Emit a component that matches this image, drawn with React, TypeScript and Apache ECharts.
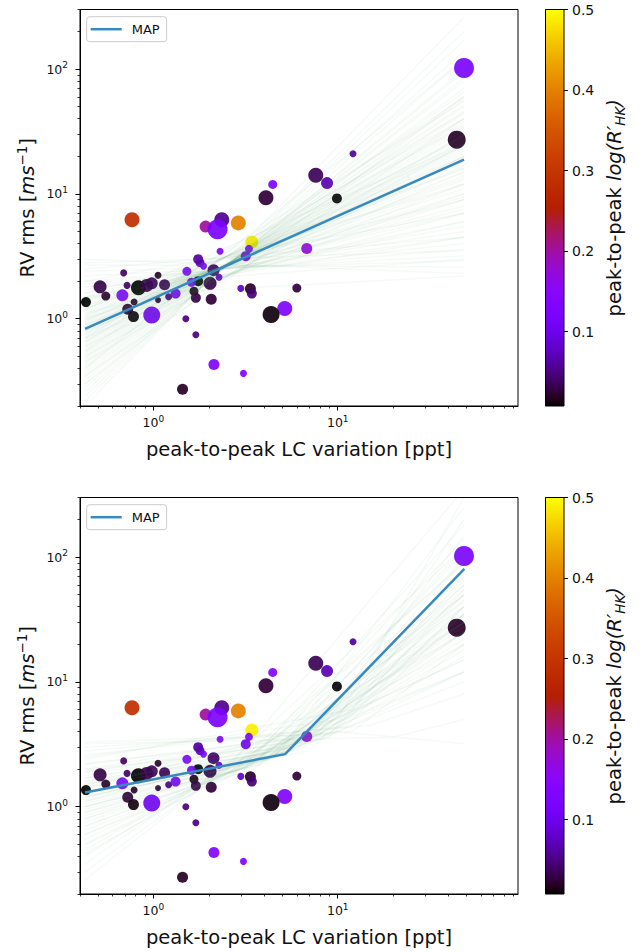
import React, { useEffect, useRef } from "react";
import * as echarts from "echarts";

const FONT = "DejaVu Sans";
const TEXT = "#111";

// axis ranges
const X_MIN = 0.4, X_MAX = 95;
const Y_MIN = 0.2, Y_MAX = 300;
const C_MIN = 0.0076, C_MAX = 0.5;

// stars: peak-to-peak LC variation [ppt]
const lcVariation = [48.4, 44.2, 12.1, 7.6, 8.75, 4.44, 4.08, 9.9, 0.766, 2.35, 1.92, 2.23, 2.89, 3.42, 3.3, 3.17, 2.3, 6.79, 1.75, 1.79, 1.87, 1.52, 2.12, 2.27, 2.03, 1.75, 1.61, 1.66, 1.7, 2.06, 2.98, 3.36, 3.42, 6.0, 5.16, 4.35, 1.5, 1.7, 2.13, 3.08, 1.44, 0.98, 0.431, 0.514, 0.552, 0.679, 0.69, 0.72, 0.726, 0.78, 0.786, 0.83, 0.92, 0.98, 1.06, 1.15, 1.06, 1.21, 1.32];
// RV rms [m/s]
const rvRms = [102, 27.2, 21.0, 14.1, 12.2, 11.9, 9.3, 9.2, 6.2, 6.2, 5.47, 5.2, 5.86, 4.1, 3.63, 3.17, 3.47, 3.65, 3.0, 2.82, 2.64, 2.4, 2.45, 2.15, 1.92, 2.0, 1.96, 1.66, 1.47, 1.43, 1.75, 1.74, 1.59, 1.76, 1.21, 1.08, 1.0, 0.745, 0.43, 0.365, 0.272, 1.07, 1.36, 1.8, 1.52, 1.54, 2.33, 1.85, 1.19, 1.04, 1.36, 1.77, 1.85, 1.92, 2.23, 1.87, 1.41, 1.5, 1.59];
// peak-to-peak log(R'HK)
const rhkVariation = [0.125, 0.02, 0.06, 0.035, 0.07, 0.13, 0.025, 0.01, 0.285, 0.055, 0.2, 0.125, 0.4, 0.49, 0.13, 0.11, 0.13, 0.17, 0.06, 0.07, 0.12, 0.13, 0.04, 0.08, 0.03, 0.008, 0.12, 0.015, 0.03, 0.025, 0.08, 0.02, 0.045, 0.025, 0.13, 0.012, 0.05, 0.05, 0.13, 0.13, 0.02, 0.11, 0.008, 0.03, 0.02, 0.13, 0.04, 0.04, 0.025, 0.012, 0.02, 0.008, 0.03, 0.035, 0.02, 0.035, 0.025, 0.05, 0.12];
// marker diameters
const markerSize = [20, 18, 7, 15, 12, 9, 15, 10, 15, 15, 12, 20, 15, 13, 8, 10, 7, 11, 10, 9, 7, 9, 12, 7, 13, 10, 9, 9, 10, 11, 7, 11, 10, 9, 15, 17, 7, 7, 11, 7, 11, 17, 10, 13, 9, 12, 7, 7, 11, 11, 7, 15, 13, 12, 7, 11, 6, 7, 10];

// MAP models
const mapLinearX = [0.426, 48.4];
const mapLinearY = [0.83, 18.8];
const mapBrokenX = [0.426, 5.18, 48.6];
const mapBrokenY = [1.3, 2.64, 80.6];

// posterior samples
const sampleX0 = 0.426, sampleX1 = 48.4;
const linStart = [0.2, 0.22, 0.24, 0.26, 0.28, 0.3, 0.32, 0.34, 0.36, 0.38, 0.4, 0.42, 0.44, 0.46, 0.48, 0.5, 0.52, 0.54, 0.56, 0.58, 0.6, 0.62, 0.64, 0.66, 0.68, 0.7, 0.72, 0.74, 0.76, 0.78, 0.8, 0.82, 0.84, 0.86, 0.88, 0.9, 0.92, 0.95, 0.98, 1.0, 1.03, 1.06, 1.1, 1.14, 1.18, 1.22, 1.27, 1.32, 1.38, 1.44, 1.5, 1.6, 1.7, 1.8, 1.9, 2.0, 2.2, 2.4, 2.7, 3.0, 0.5, 0.55, 0.6, 0.65, 0.7, 0.75, 0.8, 0.85, 0.9, 0.95, 1.0, 1.05, 1.1, 1.2, 1.3, 1.4, 1.5, 1.6, 1.8, 2.0, 0.35, 0.4, 0.45, 0.3, 0.7, 0.8, 1.2, 1.5, 2.5, 2.8];
const linEnd = [260, 200, 170, 140, 120, 100, 95, 85, 80, 70, 66, 60, 57, 52, 50, 46, 44, 40, 38, 36, 34, 32, 30, 29, 27, 26, 25, 24, 23, 22, 21, 20, 19.5, 19, 18, 17, 16.5, 16, 15, 14, 13.5, 13, 12, 11, 10, 9.5, 9, 8, 7.5, 7, 6, 5.5, 5, 4.5, 4, 3.6, 3.2, 2.9, 2.6, 2.3, 25, 60, 20, 45, 15, 35, 12, 28, 10, 24, 9, 20, 7, 16, 6, 12, 4.5, 9, 3, 7, 40, 120, 30, 60, 55, 40, 25, 2.2, 4.5, 3.5];
const brStart = [1.3, 1.0, 0.8, 0.6, 0.5, 0.3, 0.26, 1.5, 1.8, 2.0, 2.5, 3.3, 3.0, 1.6, 1.2, 1.1, 0.9, 0.7, 0.4, 1.4, 1.7, 2.2, 2.8, 3.2, 1.9, 0.55, 0.45, 1.0, 0.8, 1.3, 2.4, 0.35, 1.5, 1.2, 2.0, 1.1, 0.95, 1.25, 1.4, 0.75, 0.65, 1.6, 1.35, 1.05, 0.85, 1.15, 1.45, 1.7, 0.6, 0.9, 1.2, 2.2, 2.6, 1.9, 0.5, 0.7, 1.55, 1.0, 1.3, 0.42];
const brKneeX = [5.2, 4.0, 3.5, 3.0, 2.5, 2.0, 1.8, 6.0, 7.0, 8.0, 10, 9, 12, 5, 4.5, 6, 3, 2.6, 2.2, 8, 4, 6, 15, 20, 10, 1.8, 3, 2.5, 5, 3.5, 12, 2, 9, 7, 5.5, 4.2, 3.8, 5.5, 6.5, 3.2, 2.8, 7.5, 4.8, 5.0, 4.0, 6.0, 5.0, 9.0, 2.4, 4.5, 3.0, 8, 11, 7, 2.0, 3.5, 4.5, 6.5, 8.0, 2.6];
const brKneeY = [2.6, 2.2, 2.0, 1.9, 1.7, 1.6, 1.4, 3.0, 3.5, 4.0, 5, 3.8, 4, 2.8, 2.5, 3.2, 2, 1.9, 1.8, 4.5, 2.8, 3.5, 4.5, 3.6, 4, 1.5, 2.4, 2, 3, 2.5, 6, 1.7, 3.6, 2.8, 3, 2.4, 2.2, 2.8, 3.1, 2.1, 1.9, 3.4, 2.6, 2.6, 2.3, 2.9, 2.7, 3.8, 1.8, 2.5, 2.2, 3.8, 4.4, 3.4, 1.6, 2.2, 2.7, 3.0, 3.4, 1.9];
const brEnd = [80, 60, 50, 45, 70, 120, 40, 100, 150, 200, 300, 40, 20, 30, 35, 25, 25, 20, 30, 60, 15, 12, 8, 5, 3.2, 10, 90, 350, 250, 180, 100, 15, 40, 50, 30, 40, 55, 65, 45, 35, 30, 70, 22, 18, 28, 35, 50, 55, 25, 120, 90, 25, 35, 20, 12, 140, 110, 16, 12, 50];

// ticks
const xMajorTicks = [1, 10];
const xMinorTicks = [0.4, 0.5, 0.6, 0.7, 0.8, 0.9, 2, 3, 4, 5, 6, 7, 8, 9, 20, 30, 40, 50, 60, 70, 80, 90];
const yMajorTicks = [1, 10, 100];
const yMinorTicks = [0.2, 0.3, 0.4, 0.5, 0.6, 0.7, 0.8, 0.9, 2, 3, 4, 5, 6, 7, 8, 9, 20, 30, 40, 50, 60, 70, 80, 90, 200, 300];
const cbarTicks = [0.1, 0.2, 0.3, 0.4, 0.5];

// layout
const GRID_LEFT = 80, GRID_W = 438, GRID_H = 396.5;
const PANEL_TOPS = [9.5, 497.5];
const CB_LEFT = 545.5, CB_W = 18.5;

const MAP_COLOR = "#3789c2";
const SAMPLE_STROKE = "rgba(70,150,90,0.05)";

function gnuplot(t: number) {
  const r = Math.sqrt(t);
  const g = t * t * t;
  const b = Math.max(0, Math.sin(2 * Math.PI * t));
  return `rgb(${Math.round(255 * r)},${Math.round(255 * g)},${Math.round(255 * b)})`;
}
const PALETTE = Array.from({ length: 51 }, (_, i) => gnuplot(i / 50));

const lg = Math.log10;

const tickRich = {
  b: { fontFamily: FONT, fontSize: 12.5, lineHeight: 13, verticalAlign: "bottom", color: TEXT },
  s: { fontFamily: FONT, fontSize: 9, lineHeight: 9, verticalAlign: "bottom", padding: [0, 0, 6, 0], color: TEXT },
};
const powFmt = (v: number) => `{b|10}{s|${Math.round(v)}}`;

function axesFor(p: number) {
  const xs = [
    { type: "log", logBase: 10, gridIndex: p, min: X_MIN, max: X_MAX, position: "bottom", show: false },
    {
      type: "value", gridIndex: p, min: lg(X_MIN), max: lg(X_MAX), position: "bottom",
      axisLine: { show: true, onZero: false, lineStyle: { color: "#000", width: 1 } },
      axisTick: { show: true, customValues: xMajorTicks.map(lg), length: 4.5, lineStyle: { color: "#000", width: 1 } },
      axisLabel: { show: true, customValues: xMajorTicks.map(lg), margin: 10, formatter: powFmt, rich: tickRich },
      splitLine: { show: false },
      name: "peak-to-peak LC variation [ppt]", nameLocation: "middle", nameGap: 33, nameMoveOverlap: false,
      nameTextStyle: { fontFamily: FONT, fontSize: 19.5, color: TEXT },
    },
    {
      type: "value", gridIndex: p, min: lg(X_MIN), max: lg(X_MAX), position: "bottom",
      axisLine: { show: false, onZero: false },
      axisTick: { show: true, customValues: xMinorTicks.map(lg), length: 2.5, lineStyle: { color: "#000", width: 0.8 } },
      axisLabel: { show: false }, splitLine: { show: false },
    },
  ];
  const ys = [
    { type: "log", logBase: 10, gridIndex: p, min: Y_MIN, max: Y_MAX, position: "left", show: false },
    {
      type: "value", gridIndex: p, min: lg(Y_MIN), max: lg(Y_MAX), position: "left",
      axisLine: { show: true, onZero: false, lineStyle: { color: "#000", width: 1 } },
      axisTick: { show: true, customValues: yMajorTicks.map(lg), length: 4.5, lineStyle: { color: "#000", width: 1 } },
      axisLabel: { show: true, customValues: yMajorTicks.map(lg), margin: 12, formatter: powFmt, rich: tickRich },
      splitLine: { show: false },
      name: "{n|RV rms [}{i|ms}{sp|\u22121}{n|]}", nameLocation: "middle", nameGap: 43, nameMoveOverlap: false,
      nameTextStyle: {
        fontFamily: FONT, fontSize: 19.5, color: TEXT,
        rich: {
          n: { fontFamily: FONT, fontSize: 19.5, lineHeight: 20, verticalAlign: "bottom", color: TEXT },
          i: { fontFamily: FONT, fontSize: 19.5, lineHeight: 20, verticalAlign: "bottom", fontStyle: "italic", color: TEXT },
          sp: { fontFamily: FONT, fontSize: 13.5, lineHeight: 13.5, verticalAlign: "bottom", padding: [0, 0, 8, 0], color: TEXT },
        },
      },
    },
    {
      type: "value", gridIndex: p, min: lg(Y_MIN), max: lg(Y_MAX), position: "left",
      axisLine: { show: false, onZero: false },
      axisTick: { show: true, customValues: yMinorTicks.map(lg), length: 2.5, lineStyle: { color: "#000", width: 0.8 } },
      axisLabel: { show: false }, splitLine: { show: false },
    },
  ];
  return { xs, ys };
}

function cbarAxes(g: number) {
  const x = { type: "value", gridIndex: g, min: 0, max: 1, position: "bottom", show: false };
  const y = {
    type: "value", gridIndex: g, min: C_MIN, max: C_MAX, position: "right",
    axisLine: { show: false, onZero: false },
    axisTick: { show: true, customValues: cbarTicks, length: 4, lineStyle: { color: "#000", width: 1 } },
    axisLabel: {
      show: true, customValues: cbarTicks, margin: 8, formatter: (v: number) => v.toFixed(1),
      fontFamily: FONT, fontSize: 14, color: TEXT,
    },
    splitLine: { show: false },
    name: "{n|peak-to-peak }{i|log(R\u2032}{sb|HK}{i|)}", nameLocation: "middle", nameRotate: 90, nameGap: 40, nameMoveOverlap: false,
    nameTextStyle: {
      fontFamily: FONT, fontSize: 19.5, color: TEXT,
      rich: {
        n: { fontFamily: FONT, fontSize: 19.5, lineHeight: 20, verticalAlign: "top", color: TEXT },
        i: { fontFamily: FONT, fontSize: 19.5, lineHeight: 20, verticalAlign: "top", fontStyle: "italic", color: TEXT },
        sb: { fontFamily: FONT, fontSize: 13.5, lineHeight: 13.5, verticalAlign: "top", fontStyle: "italic", padding: [9, 0, 0, 0], color: TEXT },
      },
    },
  };
  return { x, y };
}

function buildOption() {
  const points = lcVariation.map((x, i) => [x, rvRms[i], rhkVariation[i], markerSize[i]]);
  const linSamples = linStart.map((s, i) => [s, linEnd[i]]);
  const brSamples = brStart.map((s, i) => [s, brKneeX[i], brKneeY[i], brEnd[i]]);
  const mapLin = mapLinearX.map((x, i) => [x, mapLinearY[i]]);
  const mapBr = mapBrokenX.map((x, i) => [x, mapBrokenY[i]]);

  const a0 = axesFor(0), a1 = axesFor(1);
  const c0 = cbarAxes(2), c1 = cbarAxes(3);

  const grids = [
    ...PANEL_TOPS.map((t) => ({
      left: GRID_LEFT, top: t, width: GRID_W, height: GRID_H, show: true,
      borderColor: "#000", borderWidth: 1, backgroundColor: "transparent", outerBoundsMode: "none", containLabel: false,
    })),
    ...PANEL_TOPS.map((t) => ({
      left: CB_LEFT, top: t, width: CB_W, height: GRID_H, show: false, outerBoundsMode: "none", containLabel: false,
    })),
  ];

  const scatterSeries = (p: number) => ({
    type: "scatter", xAxisIndex: p * 3, yAxisIndex: p * 3, data: points,
    symbolSize: (v: number[]) => v[3], itemStyle: { opacity: 0.92 }, z: 2, silent: true,
  });

  const linSeries = {
    type: "custom", xAxisIndex: 0, yAxisIndex: 0, data: linSamples, clip: true, z: 3, silent: true,
    renderItem: (_: any, api: any) => {
      const a = api.coord([sampleX0, api.value(0)]);
      const b = api.coord([sampleX1, api.value(1)]);
      return { type: "line", shape: { x1: a[0], y1: a[1], x2: b[0], y2: b[1] }, style: { stroke: SAMPLE_STROKE, lineWidth: 1.5, fill: null } };
    },
  };
  const brSeries = {
    type: "custom", xAxisIndex: 3, yAxisIndex: 3, data: brSamples, clip: true, z: 3, silent: true,
    renderItem: (_: any, api: any) => {
      const pts = [
        api.coord([sampleX0, api.value(0)]),
        api.coord([api.value(1), api.value(2)]),
        api.coord([sampleX1, api.value(3)]),
      ];
      return { type: "polyline", shape: { points: pts }, style: { stroke: SAMPLE_STROKE, lineWidth: 1.5, fill: null } };
    },
  };
  const mapSeries = (p: number, data: number[][]) => ({
    type: "line", name: "MAP", xAxisIndex: p * 3, yAxisIndex: p * 3, data, symbol: "none", showSymbol: false,
    lineStyle: { color: MAP_COLOR, width: 2.5 }, itemStyle: { color: MAP_COLOR }, z: 4, silent: true,
  });
  const stops = PALETTE.map((c, i) => ({ offset: i / (PALETTE.length - 1), color: c }));
  const cbarSeries = (idx: number) => ({
    type: "custom", xAxisIndex: idx, yAxisIndex: idx, data: [[0.5, C_MIN]], silent: true, z: 2,
    renderItem: (_: any, api: any) => {
      const tl = api.coord([0, C_MAX]);
      const br = api.coord([1, C_MIN]);
      return {
        type: "rect",
        shape: { x: tl[0], y: tl[1], width: br[0] - tl[0], height: br[1] - tl[1] },
        style: { fill: new echarts.graphic.LinearGradient(0, 1, 0, 0, stops), stroke: "#000", lineWidth: 1 },
      };
    },
  });

  const legendFor = (t: number) => ({
    data: ["MAP"], left: GRID_LEFT + 6.7, top: t + 7.2, orient: "vertical",
    icon: "rect", padding: [6, 7, 6, 4], itemWidth: 31, itemHeight: 2.5,
    borderColor: "#cccccc", borderWidth: 1, borderRadius: 3, backgroundColor: "rgba(255,255,255,0.85)",
    textStyle: { fontFamily: FONT, fontSize: 13, color: TEXT, padding: [0, 0, 0, 5] },
    selectedMode: false,
  });

  return {
    animation: false,
    backgroundColor: "#fff",
    textStyle: { fontFamily: FONT },
    grid: grids,
    xAxis: [...a0.xs, ...a1.xs, c0.x, c1.x],
    yAxis: [...a0.ys, ...a1.ys, c0.y, c1.y],
    legend: PANEL_TOPS.map(legendFor),
    visualMap: {
      type: "continuous", show: false, dimension: 2, min: C_MIN, max: C_MAX, seriesIndex: [0, 3],
      inRange: { color: PALETTE },
    },
    series: [
      scatterSeries(0), linSeries, mapSeries(0, mapLin),
      scatterSeries(1), brSeries, mapSeries(1, mapBr),
      cbarSeries(6), cbarSeries(7),
    ],
  };
}

export default function App() {
  const ref = useRef<HTMLDivElement>(null);
  useEffect(() => {
    if (!ref.current) return;
    const chart = echarts.init(ref.current, undefined, { renderer: "svg" });
    chart.setOption(buildOption() as any);
    return () => chart.dispose();
  }, []);
  return (
    <div
      ref={ref}
      style={{ position: "fixed", left: 0, top: 0, width: 643, height: 952, background: "#fff" }}
    />
  );
}
